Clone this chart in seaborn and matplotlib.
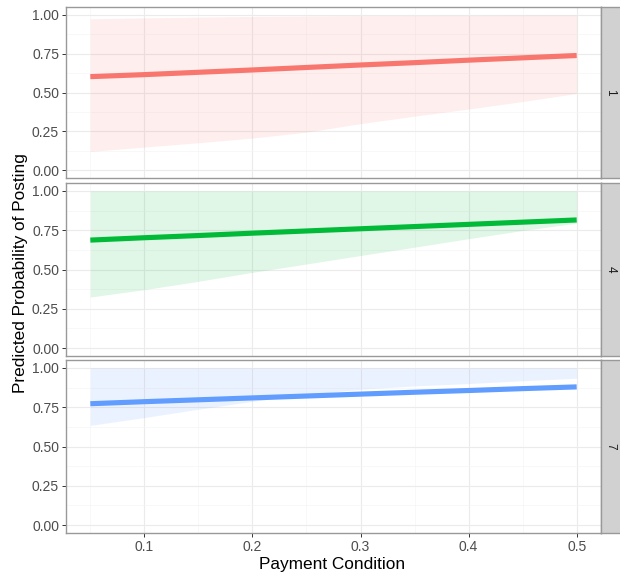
import matplotlib
matplotlib.use("Agg")
import matplotlib.pyplot as plt
import seaborn as sns
import pandas as pd

# values, x = payment condition
payment = [0.05, 0.10, 0.15, 0.20, 0.25, 0.30, 0.35, 0.40, 0.45, 0.50]
groups = ["1", "4", "7"]

fit_1 = [0.602, 0.615, 0.630, 0.645, 0.661, 0.677, 0.692, 0.708, 0.723, 0.738]
lower_1 = [0.121, 0.149, 0.177, 0.207, 0.245, 0.300, 0.348, 0.394, 0.442, 0.494]
upper_1 = [0.974, 0.980, 0.985, 0.989, 0.992, 0.994, 0.995, 0.996, 0.997, 0.998]

fit_4 = [0.687, 0.702, 0.716, 0.731, 0.745, 0.759, 0.773, 0.787, 0.801, 0.815]
lower_4 = [0.325, 0.372, 0.425, 0.482, 0.535, 0.589, 0.642, 0.696, 0.748, 0.795]
upper_4 = [0.999, 0.999, 0.999, 0.999, 0.999, 0.999, 0.999, 0.999, 0.999, 0.999]

fit_7 = [0.772, 0.785, 0.797, 0.809, 0.821, 0.833, 0.845, 0.856, 0.868, 0.879]
lower_7 = [0.634, 0.684, 0.737, 0.787, 0.830, 0.864, 0.885, 0.900, 0.918, 0.934]
upper_7 = [0.999, 0.999, 0.999, 0.999, 0.999, 0.999, 0.999, 0.999, 0.999, 0.999]

colors = ["#F8766D", "#00BA38", "#619CFF"]

fits = [fit_1, fit_4, fit_7]
lowers = [lower_1, lower_4, lower_7]
uppers = [upper_1, upper_4, upper_7]

sns.set_theme(style="white")
plt.rcParams["font.family"] = ["Liberation Sans", "DejaVu Sans"]

W, H = 620, 577
fig = plt.figure(figsize=(W / 100, H / 100), dpi=100)

panel_left, panel_right = 66, 601
panels_y = [(7, 178), (183, 356), (360, 533)]


def px_axes(x0, y0, x1, y1):
    return fig.add_axes([x0 / W, 1 - y1 / H, (x1 - x0) / W, (y1 - y0) / H])


for i, (y0, y1) in enumerate(panels_y):
    ax = px_axes(panel_left, y0, panel_right, y1)
    df = pd.DataFrame({"payment": payment, "fit": fits[i],
                       "lower": lowers[i], "upper": uppers[i]})

    ax.fill_between(df["payment"], df["lower"], df["upper"],
                    color=colors[i], alpha=0.12, linewidth=0, zorder=2)
    sns.lineplot(data=df, x="payment", y="fit", ax=ax, color=colors[i],
                 linewidth=3.7, zorder=3, legend=False,
                 solid_capstyle="butt")

    ax.set_xlim(0.0275, 0.5225)
    ax.set_ylim(-0.05, 1.05)
    ax.set_xticks([0.1, 0.2, 0.3, 0.4, 0.5])
    ax.set_xticks([0.05, 0.15, 0.25, 0.35, 0.45], minor=True)
    ax.set_yticks([0, 0.25, 0.5, 0.75, 1.0])
    ax.set_yticks([0.125, 0.375, 0.625, 0.875], minor=True)
    ax.set_yticklabels(["0.00", "0.25", "0.50", "0.75", "1.00"])
    ax.grid(True, which="major", color="#EBEBEB", linewidth=0.8, zorder=0)
    ax.grid(True, which="minor", color="#F5F5F5", linewidth=0.5, zorder=0)
    ax.set_axisbelow(True)
    ax.tick_params(axis="both", which="major", length=3, width=0.7,
                   color="#333333", labelsize=10, labelcolor="#4D4D4D", pad=2,
                   bottom=True, left=True)
    ax.tick_params(axis="both", which="minor", length=0)
    for s in ax.spines.values():
        s.set_color("#999999")
        s.set_linewidth(1.0)
    ax.set_xlabel("")
    ax.set_ylabel("")
    if i < 2:
        # only the bottom facet carries the x axis
        ax.tick_params(axis="x", which="major", labelbottom=False,
                       bottom=False)

    # facet strip on the right
    sax = px_axes(panel_right, y0, W + 2, y1)
    sax.set_xticks([])
    sax.set_yticks([])
    sax.set_facecolor("#D1D1D1")
    for s in sax.spines.values():
        s.set_color("#999999")
        s.set_linewidth(1.0)
    sax.text(0.45, 0.5, groups[i], rotation=-90, ha="center", va="center",
             fontsize=8.5, color="#1A1A1A", transform=sax.transAxes)

fig.text(332 / W, 1 - 564 / H, "Payment Condition",
         ha="center", va="center", fontsize=12.4, color="black")
fig.text(21 / W, 1 - 273 / H, "Predicted Probability of Posting",
         rotation=90, ha="center", va="center", fontsize=12.4, color="black")

fig.savefig("out.png", dpi=100)
